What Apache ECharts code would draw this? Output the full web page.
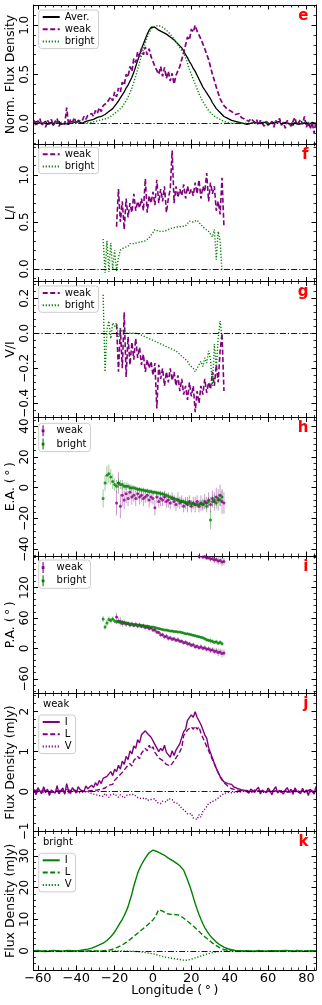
<!DOCTYPE html>
<html>
<head>
<meta charset="utf-8">
<script src="https://cdn.jsdelivr.net/npm/echarts@6/dist/echarts.min.js"></script>
<style>
html, body { margin: 0; padding: 0; background: #fff; }
#chart { width: 322px; height: 1005px; }
</style>
</head>
<body>
<div id="chart"></div>
<script>
// longitude of the first value in each array, 1 deg steps
const lonStart = -62;
const weakStart = -19;
const brightStart = -26;
const wrapStart = 24;

// panel e: normalised profiles
const normAver = [
  0.01,-0.01,0.02,0,-0.01,0.01,0.02,-0.01,0,0.01,
  -0.02,0.01,0,0.02,-0.01,0.01,0,0.01,-0.01,0.02,
  0,0.01,-0.01,0.02,0.01,0,0.02,0.02,0.03,0.03,
  0.04,0.04,0.05,0.06,0.06,0.07,0.08,0.09,0.1,0.12,
  0.13,0.15,0.17,0.2,0.23,0.26,0.29,0.32,0.36,0.39,
  0.43,0.47,0.52,0.58,0.64,0.7,0.76,0.81,0.86,0.91,
  0.95,0.98,1.0,0.98,0.97,0.95,0.95,0.93,0.92,0.91,
  0.9,0.88,0.87,0.85,0.83,0.81,0.79,0.77,0.74,0.7,
  0.67,0.63,0.6,0.56,0.53,0.49,0.45,0.41,0.37,0.34,
  0.31,0.28,0.25,0.21,0.18,0.15,0.13,0.11,0.09,0.07,
  0.06,0.05,0.04,0.03,0.03,0.02,0.02,0.01,0.01,0,
  0.02,-0.01,0.01,0,-0.01,0.01,0.02,0,-0.01,0.01,
  0,0.01,-0.02,0,0.01,-0.01,0.01,0,0.02,-0.01,
  0,0.01,-0.01,0,0.01,-0.02,0.01,0,-0.01,0.01,
  0,-0.01,0.01,-0.02,0,0.01,-0.01,0
];
const normWeak = [
  0.03,-0.03,0.02,0.05,-0.02,0.01,-0.04,0.03,0,0.04,
  -0.02,0.02,0.05,-0.03,0.01,0.03,-0.01,0.16,-0.02,0.04,
  0.01,0.06,-0.01,0.03,0.05,0.02,0.07,0.04,0.08,0.06,
  0.1,0.07,0.13,0.1,0.16,0.12,0.18,0.17,0.21,0.2,
  0.27,0.23,0.32,0.27,0.36,0.32,0.42,0.39,0.5,0.47,
  0.58,0.53,0.66,0.62,0.73,0.68,0.76,0.7,0.78,0.7,
  0.76,0.68,0.7,0.58,0.57,0.5,0.58,0.48,0.57,0.46,
  0.53,0.43,0.51,0.4,0.49,0.48,0.58,0.56,0.72,0.72,
  0.88,0.85,0.96,0.93,1.0,0.94,0.96,0.86,0.86,0.76,
  0.77,0.65,0.66,0.5,0.5,0.37,0.36,0.25,0.26,0.18,
  0.17,0.14,0.13,0.12,0.1,0.09,0.08,0.1,0.06,0.07,
  0.04,0.06,0.02,0.05,0.03,0.01,0.04,-0.02,0.03,0.01,
  -0.03,0.02,0.04,-0.01,0.02,-0.04,0.03,0,0.05,-0.02,
  0.01,-0.05,0.03,0,-0.03,0.02,0.06,-0.02,0.01,0.04,
  -0.01,0.07,-0.04,0.02,-0.06,0.01,-0.1,0.02
];
const normBright = [
  0,0.01,0,-0.01,0,0.01,0,0,-0.01,0.01,
  0,0,0.01,-0.01,0,0.01,0,-0.01,0,0.01,
  0,0,0.01,0,0,0.01,0,0.01,0.01,0.01,
  0.01,0.02,0.02,0.02,0.03,0.03,0.04,0.05,0.05,0.06,
  0.07,0.08,0.1,0.11,0.13,0.15,0.17,0.2,0.23,0.27,
  0.31,0.36,0.42,0.48,0.55,0.62,0.69,0.76,0.82,0.88,
  0.92,0.96,0.98,0.99,1.0,1.0,0.99,0.98,0.96,0.95,
  0.93,0.91,0.89,0.86,0.83,0.8,0.77,0.75,0.72,0.67,
  0.61,0.55,0.5,0.45,0.4,0.35,0.3,0.26,0.22,0.19,
  0.16,0.13,0.11,0.09,0.07,0.06,0.05,0.04,0.03,0.02,
  0.02,0.01,0.01,0,0.01,0,0,0.01,-0.01,0,
  0.01,0,-0.01,0,0.01,0,0,-0.01,0.01,0,
  0,0.01,0,-0.01,0,0.01,0,0,-0.01,0.01,
  0,0,0.01,-0.01,0,0.01,0,-0.01,0,0.01,
  0,0,-0.01,0.01,0,0,0.01,-0.01
];

// panel j: weak mode, mJy
const weakI = [
  0.05,-0.08,0.1,0.02,-0.05,0.12,-0.03,0.06,-0.1,0.04,
  0.08,-0.04,0.15,-0.06,0.03,0.09,-0.07,0.2,0.01,-0.05,
  0.1,0.03,-0.04,0.12,0.05,0.08,0,0.14,0.07,0.12,
  0.16,0.1,0.22,0.15,0.28,0.2,0.33,0.28,0.38,0.34,
  0.5,0.4,0.56,0.5,0.66,0.56,0.76,0.68,0.88,0.8,
  1.02,0.94,1.14,1.08,1.3,1.22,1.42,1.38,1.52,1.46,
  1.5,1.36,1.4,1.18,1.16,1.0,1.08,1.02,1.16,0.98,
  1.0,0.86,1.02,0.9,1.04,1.02,1.2,1.24,1.5,1.56,
  1.78,1.74,1.92,1.86,2.0,1.86,1.86,1.68,1.64,1.42,
  1.34,1.1,1.06,0.84,0.8,0.58,0.54,0.38,0.38,0.24,
  0.24,0.2,0.16,0.18,0.12,0.15,0.08,0.12,0.05,0.1,
  0.03,0.08,-0.04,0.06,0.1,-0.02,0.05,0.11,-0.06,0.04,
  0.07,-0.03,0.09,0.02,-0.08,0.05,0.12,-0.04,0.03,0.08,
  -0.06,0.04,0.1,-0.02,0.06,-0.07,0.09,0.01,0.05,-0.05,
  0.08,-0.03,0.04,-0.1,0.06,0.02,-0.06,0.13
];
const weakL = [
  0.02,-0.03,0.04,-0.01,0.03,-0.02,0.01,0.05,-0.03,0.02,
  -0.01,0.04,0.02,-0.04,0.03,0.01,-0.02,0.05,0,0.03,
  -0.02,0.04,0.01,-0.01,0.03,0.02,0.05,0,0.04,0.02,
  0.05,0.03,0.06,0.04,0.08,0.06,0.1,0.09,0.14,0.16,
  0.2,0.18,0.28,0.26,0.38,0.34,0.48,0.44,0.6,0.56,
  0.7,0.64,0.78,0.76,0.88,0.82,0.96,0.96,1.08,1.02,
  1.16,1.06,1.12,0.98,0.98,0.84,0.88,0.78,0.82,0.68,
  0.72,0.64,0.7,0.7,0.84,0.82,1.0,1.1,1.4,1.4,
  1.54,1.5,1.62,1.56,1.64,1.56,1.62,1.46,1.44,1.24,
  1.22,1.02,1.0,0.8,0.76,0.58,0.54,0.36,0.36,0.22,
  0.19,0.14,0.1,0.07,0.04,0.05,0.02,0.03,0,0.02,
  -0.02,0.03,0.01,-0.03,0.02,0.04,-0.01,0.02,-0.03,0.01,
  0.03,-0.02,0.02,0.04,-0.01,0.01,-0.03,0.02,0.03,-0.02,
  0.01,0.04,-0.02,0.02,0,-0.03,0.03,0.01,-0.02,0.02,
  0.03,-0.01,0.02,-0.02,0.04,0,-0.03,0.02
];
const weakV = [
  -0.02,0.03,-0.01,0.02,-0.04,0.01,0.03,-0.02,0,0.02,
  -0.03,0.01,0.02,-0.01,0.03,-0.02,0,0.02,-0.03,0.01,
  0.02,-0.02,0,0.01,-0.03,0.02,-0.01,-0.04,0,-0.03,
  -0.05,-0.02,-0.08,-0.04,-0.1,-0.06,-0.12,-0.05,-0.1,-0.14,
  -0.08,-0.12,-0.06,-0.1,-0.14,-0.08,-0.12,-0.16,-0.1,-0.13,
  -0.08,-0.12,-0.07,-0.11,-0.15,-0.13,-0.18,-0.2,-0.16,-0.22,
  -0.25,-0.2,-0.24,-0.18,-0.27,-0.22,-0.3,-0.24,-0.2,-0.26,
  -0.18,-0.23,-0.2,-0.27,-0.24,-0.3,-0.36,-0.42,-0.45,-0.5,
  -0.56,-0.6,-0.55,-0.66,-0.62,-0.7,-0.58,-0.64,-0.5,-0.44,
  -0.38,-0.3,-0.34,-0.25,-0.28,-0.2,-0.16,-0.12,-0.08,-0.05,
  -0.04,-0.02,0.01,-0.03,0.02,-0.01,0.03,-0.02,0.01,0.02,
  -0.02,0.01,0.03,-0.01,0,0.02,-0.03,0.01,0.02,-0.02,
  0.01,-0.02,0.03,0,-0.01,0.02,-0.03,0.01,0,0.02,
  -0.02,0.01,0.03,-0.01,0.02,-0.03,0,0.01,-0.02,0.02,
  0.01,-0.01,0.02,-0.03,0,0.02,-0.01,0.01
];

// panel k: bright mode, mJy
const brightI = [
  0.1,-0.2,0.2,0,-0.1,0.2,-0.2,0.1,0,-0.1,
  0.2,-0.1,0.1,0.2,-0.2,0,0.1,-0.1,0.2,0,
  0.1,0.2,0,0.3,0.2,0.4,0.4,0.5,0.6,0.8,
  0.9,1.1,1.4,1.6,1.9,2.2,2.5,2.9,3.3,3.8,
  4.5,5.2,6.0,7.0,8.0,9.0,10.0,11.2,12.5,14.0,
  16.0,18.0,20.5,22.5,24.5,26.0,27.2,28.3,29.3,30.2,
  31.0,31.5,31.8,31.7,31.4,31.1,30.8,30.5,30.2,29.8,
  29.3,28.9,28.6,28.2,27.8,27.4,26.9,26.4,25.5,24.0,
  22.5,20.8,19.0,17.0,15.0,13.2,11.5,10.0,8.6,7.4,
  6.4,5.5,4.7,4.0,3.4,2.8,2.3,1.9,1.5,1.2,
  0.9,0.7,0.5,0.4,0.3,0.2,0.2,0.1,0.2,0,
  0.1,-0.1,0.2,0,0.1,-0.2,0.1,0.2,-0.1,0,
  0.2,-0.1,0,0.1,-0.2,0.1,0.2,0,-0.1,0.1,
  0,0.2,-0.1,0.1,0,-0.2,0.1,0.2,-0.1,0,
  0.1,-0.1,0.2,0,-0.1,0.1,0,0.1
];
const brightL = [
  0.1,-0.1,0,0.1,-0.1,0,0.1,0,-0.1,0.1,
  0,-0.1,0.1,0,0,0.1,-0.1,0,0.1,0,
  -0.1,0.1,0,0,0.1,-0.1,0,0.1,0,0,
  0.1,0,0,0.1,0,0.1,0.1,0.2,0.2,0.3,
  0.4,0.6,0.8,1.0,1.3,1.6,1.9,2.3,2.7,3.1,
  3.6,4.1,4.6,5.1,5.6,6.1,6.6,7.1,7.6,8.1,
  8.7,9.2,9.8,10.6,11.8,13.0,13.3,12.6,12.0,11.8,
  11.7,11.6,11.6,11.5,11.5,11.4,11.2,10.8,10.4,9.9,
  9.4,8.9,8.4,7.9,7.4,6.8,6.2,5.6,5.0,4.5,
  4.0,3.5,3.0,2.5,2.1,1.7,1.3,1.0,0.7,0.5,
  0.3,0.2,0.1,0.1,0,0.1,-0.1,0,0.1,0,
  -0.1,0.1,0,0,0.1,-0.1,0,0.1,0,-0.1,
  0.1,0,-0.1,0,0.1,0,0,-0.1,0.1,0,
  0,0.1,-0.1,0,0.1,0,-0.1,0,0.1,0,
  -0.1,0,0.1,0,0,-0.1,0.1,0
];
const brightV = [
  0,0.1,-0.1,0,0.1,0,-0.1,0,0.1,0,
  -0.1,0,0.1,0,0,-0.1,0.1,0,0,0.1,
  0,-0.1,0,0.1,0,0,-0.1,0,0.1,0,
  0,0.1,0,-0.1,0,0.1,0,0,-0.1,0,
  0.1,0,0,-0.1,0,0.1,0,-0.1,0,0,
  -0.1,0,-0.1,-0.1,-0.2,-0.2,-0.3,-0.4,-0.5,-0.6,
  -0.7,-0.8,-0.9,-1.0,-1.2,-1.4,-1.6,-1.7,-1.9,-2.0,
  -2.1,-2.2,-2.3,-2.4,-2.5,-2.6,-2.7,-2.8,-2.9,-3.0,
  -2.9,-2.8,-2.6,-2.4,-2.2,-2.0,-1.8,-1.6,-1.4,-1.2,
  -1.0,-0.8,-0.7,-0.5,-0.4,-0.3,-0.2,-0.1,-0.1,0,
  0.1,0,-0.1,0,0.1,0,0,-0.1,0,0.1,
  0,-0.1,0,0.1,0,0,-0.1,0,0.1,0,
  -0.1,0,0,0.1,0,-0.1,0,0,0.1,0,
  0,-0.1,0.1,0,0,0.1,-0.1,0,0,0.1,
  0,-0.1,0,0.1,0,0,-0.1,0
];

// panels f, g: fractional polarisation (weak from -19, bright from -26)
const weakLI = [
  0.45,0.85,0.5,0.72,0.42,0.75,0.55,0.7,0.6,0.8,
  0.62,0.72,0.65,0.75,0.62,0.96,0.6,0.78,0.7,0.82,
  0.68,0.95,0.7,0.85,0.72,0.88,0.6,0.75,0.85,1.26,
  0.7,0.88,0.76,0.85,0.78,0.9,0.75,0.88,0.8,0.85,
  0.78,0.92,0.8,0.95,0.75,0.88,0.82,1.02,0.72,0.92,
  0.8,0.88,0.62,0.72,0.58,0.97,0.45
];
const brightLI = [
  0.32,-0.04,0.3,-0.03,0.28,0,0.2,-0.02,0.12,0.2,
  0.18,0.23,0.21,0.24,0.27,0.26,0.27,0.25,0.28,0.27,
  0.29,0.3,0.3,0.31,0.33,0.36,0.39,0.42,0.43,0.4,
  0.39,0.4,0.4,0.41,0.42,0.43,0.43,0.44,0.44,0.45,
  0.45,0.45,0.46,0.46,0.48,0.51,0.53,0.5,0.48,0.52,
  0.5,0.47,0.45,0.43,0.42,0.4,0.37,0.34,0.42,0.1,
  0.4,0.3,-0.03
];
const weakVI = [
  0.05,-0.22,0.03,-0.2,0.12,-0.25,-0.02,-0.18,-0.05,-0.15,
  -0.03,-0.14,-0.08,-0.18,-0.12,-0.22,-0.15,-0.2,-0.16,-0.24,
  -0.17,-0.43,-0.18,-0.26,-0.2,-0.3,-0.22,-0.28,-0.2,-0.27,
  -0.22,-0.3,-0.24,-0.33,-0.26,-0.35,-0.3,-0.38,-0.28,-0.36,
  -0.3,-0.45,-0.33,-0.4,-0.3,-0.35,-0.26,-0.34,-0.28,-0.32,
  -0.22,-0.3,-0.18,-0.28,-0.1,0.0,-0.33
];
const brightVI = [
  0.22,-0.22,0.02,0.07,-0.03,0.06,0.04,0.06,-0.02,0.03,
  0.01,0.02,0,0.01,0,0.01,0,-0.01,0,-0.01,
  -0.01,-0.02,-0.02,-0.03,-0.03,-0.04,-0.04,-0.05,-0.05,-0.06,
  -0.06,-0.07,-0.07,-0.08,-0.08,-0.09,-0.09,-0.1,-0.1,-0.11,
  -0.12,-0.13,-0.14,-0.15,-0.16,-0.18,-0.19,-0.2,-0.22,-0.2,
  -0.18,-0.16,-0.19,-0.14,-0.17,-0.1,-0.15,-0.3,-0.06,-0.2,
  -0.03,0.07,-0.02
];

// panels h, i: angles in deg with 1-sigma errors
const weakEA = [
  -10,3,-12,-5,-8,-4,-7,-3,-6,-5,
  -7,-4,-6,-5,-7,-6,-5,-8,-6,-7,
  -13,-6,-9,-7,-8,-6,-9,-8,-10,-7,
  -9,-11,-8,-10,-9,-12,-10,-11,-9,-12,
  -10,-11,-9,-12,-10,-11,-9,-10,-8,-11,
  -7,-9,-6,-8,-5,-9,-10
];
const brightEA = [
  -7,3,8,9,7,4,2,1,3,2,
  2,1,1,1,0,0,0,-0.5,-1,-1,
  -1.5,-1.5,-2,-2,-2.5,-2.5,-3,-3,-3.5,-3.5,
  -4,-4,-4.5,-5,-5.5,-6,-6.5,-7,-7.5,-8,
  -8.5,-9,-9,-9.5,-10,-10,-10.5,-10.5,-11,-11,
  -11,-10.5,-11,-10,-12,-9,-21,-9,-8,-10,
  -7,-8,-6
];
const weakPA = [
  62,54,53,49,51,48,49,46,48,45,
  47,44,46,43,44,41,42,39,40,36,
  36,32,31,27,27,23,24,20,21,18,
  19,16,17,14,14,11,12,9,9,6,
  7,3,4,1,3,0,1,-2,-1,-4,
  -3,-6,-5,-8,-7,-10,-9
];
const weakPAwrap = [181,183,180,181,178,179,176,177,174,175,172,173,170,171];
const brightPA = [
  58,42,50,57,55,58,54,52,53,51,
  52,50,50,49,48,48,47,47,46,46,
  45,45,44,44,43,42,42,41,40,39,
  38,37,36,36,35,34,34,33,33,32,
  32,31,30,29,29,28,27,26,25,24,
  23,22,21,19,17,16,15,14,12,13,
  10,12,9
];
const weakErr = [
  8,7,8,7,6,6,
  5,5,5,4,5,4,5,4,5,4,
  4,5,4,4,5,4,4,5,4,4,
  4,5,4,4,4,4,5,4,4,4,
  4,5,4,4,4,5,4,4,5,4,
  5,4,5,5,
  5,6,6,7,7,8,7
];
const brightErr = [
  6,5,6,6,5,5,4,4,3,3,3,2.5,2.5,2,2,2,1.5,
  1.5,1.5,1.5,1.5,1.5,1.5,1.5,1.5,1.5,1.5,1.5,1.5,
  1.5,1.5,1.5,1.5,1.5,1.5,1.5,1.5,1.5,1.5,1.5,1.5,
  2,2,2,2,2,2,2,2,2,2.5,2.5,
  3,3,4,3,6,4,3,4,3,4,4
];

// axes
const xRange = [-62.3, 85];
const xTicks = [-60, -40, -20, 0, 20, 40, 60, 80];
const xMinorStep = 4;
const yRanges = [[-0.211, 1.207], [-0.133, 1.33], [-0.481, 0.296], [-44.4, 45.6], [-89, 182], [-1.0, 2.455], [-6, 37.7]];
const yTicks = [[0, 0.5, 1], [0, 0.5, 1], [-0.4, -0.2, 0, 0.2], [-40, -20, 0, 20, 40], [-60, 0, 60, 120], [-1, 0, 1, 2], [0, 10, 20, 30]];
const yMinorStep = [0.1, 0.1, 0.04, 4, 12, 0.2, 2];
const yDecimals = [1, 1, 1, 0, 0, 0, 0];
const yNames = ['Norm. Flux Density', 'L/I', 'V/I', 'E.A. (\u2009°\u2009)', 'P.A. (\u2009°\u2009)', 'Flux Density (mJy)', 'Flux Density (mJy)'];
const panelTags = ['e', 'f', 'g', 'h', 'i', 'j', 'k'];
const xName = 'Longitude (\u2009°\u2009)';

const PURPLE = '#800080';
const GREEN = '#008000';
const FONT = 'DejaVu Sans';
const bounds = [5, 144, 281.5, 417.5, 556, 693.5, 831.5, 970];
const plotLeft = 33.5, plotRight = 316;

function ticks(lo, hi, step) {
  const out = [];
  for (let k = Math.ceil(lo / step - 1e-6); k * step <= hi + 1e-6; k++) out.push(+(k * step).toFixed(6));
  return out;
}
function fmt(dec) {
  return (v) => (dec ? v.toFixed(dec) : String(Math.round(v))).replace('-', '\u2212');
}
function onGrid(start, vals) {
  return vals.map((v, i) => [start + i, v]);
}
function withErr(start, vals, errs) {
  return vals.map((v, i) => [start + i, v, errs[i]]);
}

// major axis (frame line + long ticks) and a minor one on the same side
function pair(gi, pos, range, majors, minorStep) {
  const common = { type: 'value', gridIndex: gi, position: pos, min: range[0], max: range[1],
    splitLine: { show: false }, axisLabel: { show: false } };
  return [
    Object.assign({}, common, {
      axisLine: { show: true, onZero: false, lineStyle: { color: '#000', width: 1 } },
      axisTick: { show: true, inside: true, length: 4.5, lineStyle: { color: '#000', width: 1 }, customValues: majors }
    }),
    Object.assign({}, common, {
      axisLine: { show: false, onZero: false },
      axisTick: { show: true, inside: true, length: 2.5, lineStyle: { color: '#000', width: 0.8 }, customValues: ticks(range[0], range[1], minorStep) }
    })
  ];
}

const grids = [], xAxes = [], yAxes = [], series = [], legends = [], graphics = [];

for (let g = 0; g < 7; g++) {
  grids.push({ left: plotLeft, top: bounds[g], width: plotRight - plotLeft, height: bounds[g + 1] - bounds[g], outerBoundsMode: 'none' });

  const bottom = pair(g, 'bottom', xRange, xTicks, xMinorStep);
  if (g === 6) {
    bottom[0].axisLabel = { show: true, customValues: xTicks, formatter: fmt(0), fontSize: 13, color: '#000', fontFamily: FONT, margin: 2 };
    bottom[0].name = xName;
    bottom[0].nameLocation = 'middle';
    bottom[0].nameGap = 14.5;
    bottom[0].nameMoveOverlap = false;
    bottom[0].nameTextStyle = { fontSize: 12.5, color: '#000', fontFamily: FONT };
  }
  xAxes.push(...bottom, ...pair(g, 'top', xRange, xTicks, xMinorStep));

  const leftAx = pair(g, 'left', yRanges[g], yTicks[g], yMinorStep[g]);
  leftAx[0].axisLabel = { show: true, customValues: yTicks[g], rotate: 90, formatter: fmt(yDecimals[g]), fontSize: 12, color: '#000', fontFamily: FONT, margin: 3 };
  leftAx[0].name = yNames[g];
  leftAx[0].nameLocation = 'middle';
  leftAx[0].nameGap = 16;
  leftAx[0].nameMoveOverlap = false;
  leftAx[0].nameTextStyle = { fontSize: 12.5, color: '#000', fontFamily: FONT };
  yAxes.push(...leftAx, ...pair(g, 'right', yRanges[g], yTicks[g], yMinorStep[g]));

  graphics.push({ type: 'text', x: 308.5, y: bounds[g] + 11, z: 100,
    style: { text: panelTags[g], fill: '#ff0000', font: 'bold 15px ' + FONT, align: 'right', verticalAlign: 'middle' } });
}

const zeroLine = {
  silent: true, symbol: ['none', 'none'], label: { show: false }, animation: false,
  lineStyle: { color: '#000', width: 0.9, type: [6, 2, 1.2, 2] }, data: [{ yAxis: 0 }]
};

function line(g, name, data, color, dash, width, zero) {
  const s = { type: 'line', name, xAxisIndex: 4 * g, yAxisIndex: 4 * g, data, symbol: 'none', showSymbol: false,
    lineStyle: { color, width, type: dash }, itemStyle: { color }, emphasis: { disabled: true }, animation: false };
  if (zero) s.markLine = zeroLine;
  return s;
}

function errRender(params, api) {
  const x = api.value(0), y = api.value(1), e = api.value(2);
  const p1 = api.coord([x, y - e]), p2 = api.coord([x, y + e]);
  return { type: 'line', shape: { x1: p1[0], y1: p1[1], x2: p2[0], y2: p2[1] },
    style: { stroke: api.visual('color'), lineWidth: 1, opacity: 0.4 } };
}
function errBars(g, name, data, color) {
  return [
    { type: 'custom', xAxisIndex: 4 * g, yAxisIndex: 4 * g, data, clip: true, silent: true, animation: false,
      renderItem: errRender, itemStyle: { color }, encode: { x: 0, y: 1 } },
    { type: 'scatter', name, xAxisIndex: 4 * g, yAxisIndex: 4 * g, data: data.map((d) => [d[0], d[1]]),
      symbol: 'circle', symbolSize: 3, itemStyle: { color }, clip: true, silent: true, animation: false }
  ];
}

const DASH = [5, 2.5];
const DOT = [1.2, 1.8];

// e
series.push(line(0, 'e:Aver.', onGrid(lonStart, normAver), '#000', 'solid', 1.3));
series.push(line(0, 'e:weak', onGrid(lonStart, normWeak), PURPLE, DASH, 1.7));
series.push(line(0, 'e:bright', onGrid(lonStart, normBright), GREEN, DOT, 1.4, true));
// f
series.push(line(1, 'f:weak', onGrid(weakStart, weakLI), PURPLE, DASH, 1.6));
series.push(line(1, 'f:bright', onGrid(brightStart, brightLI), GREEN, DOT, 1.4, true));
// g
series.push(line(2, 'g:weak', onGrid(weakStart, weakVI), PURPLE, DASH, 1.6));
series.push(line(2, 'g:bright', onGrid(brightStart, brightVI), GREEN, DOT, 1.4, true));
// h
series.push(...errBars(3, 'h:weak', withErr(weakStart, weakEA, weakErr), PURPLE));
series.push(...errBars(3, 'h:bright', withErr(brightStart, brightEA, brightErr), GREEN));
// i
const wrapErr = weakErr.slice(wrapStart - weakStart);
series.push(...errBars(4, 'i:weak', withErr(weakStart, weakPA, weakErr).concat(withErr(wrapStart, weakPAwrap, wrapErr)), PURPLE));
series.push(...errBars(4, 'i:bright', withErr(brightStart, brightPA, brightErr), GREEN));
// j
series.push(line(5, 'j:I', onGrid(lonStart, weakI), PURPLE, 'solid', 1.4));
series.push(line(5, 'j:L', onGrid(lonStart, weakL), PURPLE, DASH, 1.4));
series.push(line(5, 'j:V', onGrid(lonStart, weakV), PURPLE, DOT, 1.4, true));
// k
series.push(line(6, 'k:I', onGrid(lonStart, brightI), GREEN, 'solid', 1.4));
series.push(line(6, 'k:L', onGrid(lonStart, brightL), GREEN, DASH, 1.4));
series.push(line(6, 'k:V', onGrid(lonStart, brightV), GREEN, DOT, 1.4, true));

function legend(data, top, extra) {
  return Object.assign({
    orient: 'vertical', left: 38.7, top, data, selectedMode: false,
    formatter: (n) => n.slice(2), itemWidth: 17, itemHeight: 10, itemGap: 2.3,
    padding: [2, 4, 2, 3], borderColor: '#cccccc', borderWidth: 1, borderRadius: 3,
    backgroundColor: 'rgba(255,255,255,0.8)',
    textStyle: { fontSize: 10, color: '#000', fontFamily: FONT },
    itemStyle: { opacity: 0 }
  }, extra || {});
}
const errIcon = 'path://M9.4,0H10.6V12H9.4Z M8.5,4.5H11.5V7.5H8.5Z';
legends.push(legend(['e:Aver.', 'e:weak', 'e:bright'], 10));
legends.push(legend(['f:weak', 'f:bright'], 147.3));
legends.push(legend(['g:weak', 'g:bright'], 286));
legends.push(legend([{ name: 'h:weak', icon: errIcon }, { name: 'h:bright', icon: errIcon }], 423.3, { itemStyle: { opacity: 1 }, itemHeight: 11 }));
legends.push(legend([{ name: 'i:weak', icon: errIcon }, { name: 'i:bright', icon: errIcon }], 560, { itemStyle: { opacity: 1 }, itemHeight: 11 }));
legends.push(legend(['j:I', 'j:L', 'j:V'], 715));
legends.push(legend(['k:I', 'k:L', 'k:V'], 853.3));

graphics.push({ type: 'text', x: 43, y: bounds[5] + 11, style: { text: 'weak', fill: '#000', font: '10px ' + FONT, align: 'left', verticalAlign: 'middle' } });
graphics.push({ type: 'text', x: 43, y: bounds[6] + 11, style: { text: 'bright', fill: '#000', font: '10px ' + FONT, align: 'left', verticalAlign: 'middle' } });

const chart = echarts.init(document.getElementById('chart'), null, { renderer: 'canvas' });
chart.setOption({
  animation: false,
  backgroundColor: '#fff',
  textStyle: { fontFamily: FONT },
  grid: grids,
  xAxis: xAxes,
  yAxis: yAxes,
  legend: legends,
  series,
  graphic: graphics
});
</script>
</body>
</html>
